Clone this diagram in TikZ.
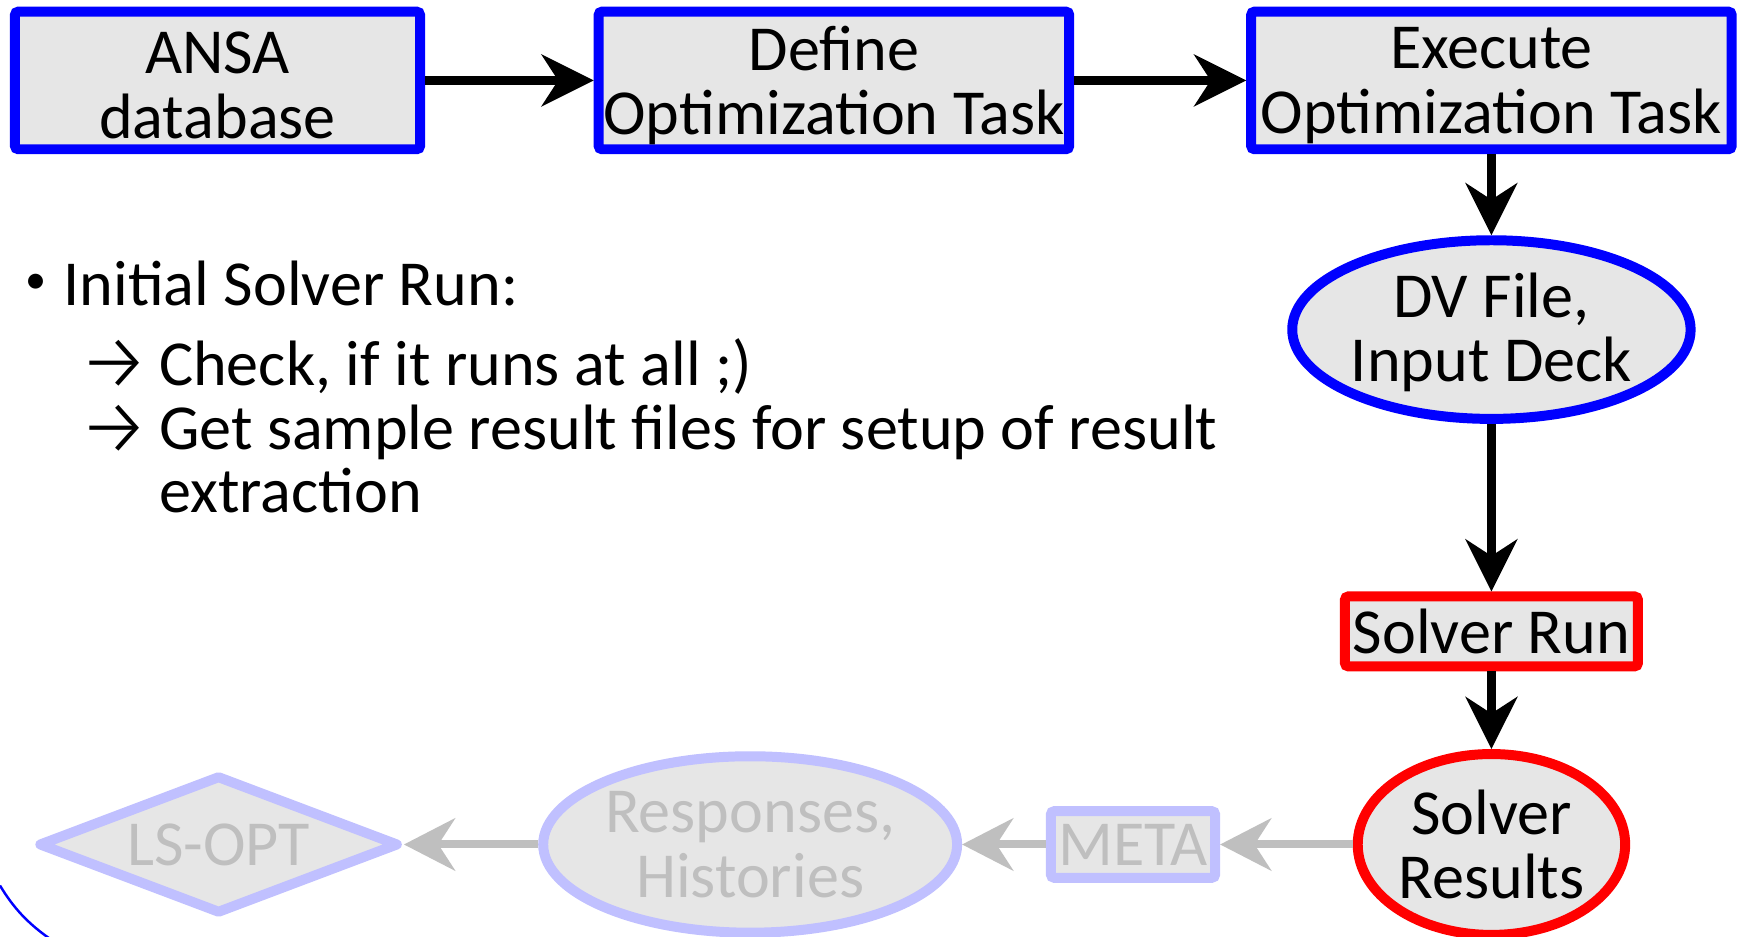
\documentclass[tikz,border=0pt]{standalone}
\usepackage{fontspec}
\setmainfont{Carlito}
\newfontfamily\arrowfont{Fira Sans Light}
\usetikzlibrary{shapes.geometric,arrows.meta}
\definecolor{boxgray}{HTML}{E6E6E6}
\definecolor{fadeblue}{HTML}{C0C0FF}
\definecolor{fadetext}{HTML}{BFBFBF}
\definecolor{pureblue}{HTML}{0000FF}
\definecolor{purered}{HTML}{FF0000}
\begin{document}
\begin{tikzpicture}[x=0.5pt,y=-0.5pt,
  every node/.style={inner sep=0pt, font=\fontsize{28.9pt}{29pt}\selectfont},
  bluebox/.style={draw=pureblue, fill=boxgray, line width=4.5pt, rounded corners=1.5pt, minimum height=62pt},
  boxtext/.style={align=center, yshift=-2.25pt},
  blueell/.style={ellipse, draw=pureblue, fill=boxgray, line width=4.5pt, align=center},
  redbox/.style={draw=purered, fill=boxgray, line width=4.5pt, rounded corners=1.5pt, align=center},
  redell/.style={ellipse, draw=purered, fill=boxgray, line width=4.5pt, align=center},
  fadebox/.style={draw=fadeblue, fill=boxgray, line width=4.5pt, rounded corners=1.5pt, align=center, text=fadetext},
  fadeell/.style={ellipse, draw=fadeblue, fill=boxgray, line width=4.5pt, align=center, text=fadetext},
  fadedia/.style={diamond, shape aspect=2.6, draw=fadeblue, fill=boxgray, line width=4.5pt, line join=round, align=center, text=fadetext},
  blk/.style={draw=black, line width=4.2pt, -{Stealth[length=23.5pt,width=23.5pt,inset=7.5pt]}},
  gry/.style={draw=fadetext, line width=3.6pt, -{Stealth[length=23pt,width=23.5pt,inset=7.5pt]}},
  listtext/.style={anchor=base west},
  arrowglyph/.style={anchor=center, inner ysep=-10pt, font=\arrowfont\fontsize{36pt}{36pt}\selectfont}
]
\useasboundingbox[fill=white] (0,0) rectangle (1568,844);

% top row
\node[bluebox, minimum width=182.5pt, label={[boxtext, name=ansat]center:ANSA\\database}] (ansa) at (196,72.5) {};
\node[bluebox, minimum width=212pt, label={[boxtext, name=definet]center:Define\\Optimization Task}] (define) at (751.5,72.5) {};
\node[bluebox, minimum width=216.5pt, label={[boxtext, name=executet]center:Execute\\Optimization Task}] (execute) at (1344,72.5) {};

% right column
\node[blueell, minimum width=179.5pt, minimum height=80.5pt, label={[align=center, yshift=-1.25pt, name=dvt]center:DV File,\\Input Deck}] (dv) at (1344,297) {};
\node[redbox, minimum width=132pt, minimum height=31.5pt] (run) at (1344,569) {Solver Run};
\node[redell, minimum width=120.5pt, minimum height=81.5pt] (res) at (1344,761) {Solver\\Results};

% faded bottom row
\node[fadebox, minimum width=74pt, minimum height=30pt] (meta) at (1021,761) {META};
\node[fadeell, minimum width=186.5pt, minimum height=79.5pt] (resp) at (676,761) {Responses,\\Histories};
\node[fadedia, minimum width=162.5pt, minimum height=62.5pt] (lsopt) at (197,761) {LS-OPT};

% connectors
\draw[blk] (ansa) -- (define);
\draw[blk] (define) -- (execute);
\draw[blk] (execute) -- (dv);
\draw[blk] (dv) -- (run);
\draw[blk] (run) -- (res);
\draw[gry] (res) -- (meta);
\draw[gry] (meta) -- (resp);
\draw[gry] (resp) -- (lsopt);

% bullet text
\node[anchor=center, font=\fontsize{19pt}{19pt}\selectfont] (bul) at (32.5,256) {•};
\node[listtext] (l1) at (57,275) {Initial Solver Run:};
\node[arrowglyph] (a1) at (103.5,329) {→};
\node[listtext] (l2) at (143,347) {Check, if it runs at all ;)};
\node[arrowglyph] (a2) at (103.5,387) {→};
\node[listtext] (l3) at (143,405) {Get sample result files for setup of result};
\node[listtext] (l4) at (143,462) {extraction};

% partial blue arc at bottom-left
\draw[pureblue, line width=1.1pt] (0,798) .. controls (12,818) and (25,832) .. (45,846);
\end{tikzpicture}
\end{document}
